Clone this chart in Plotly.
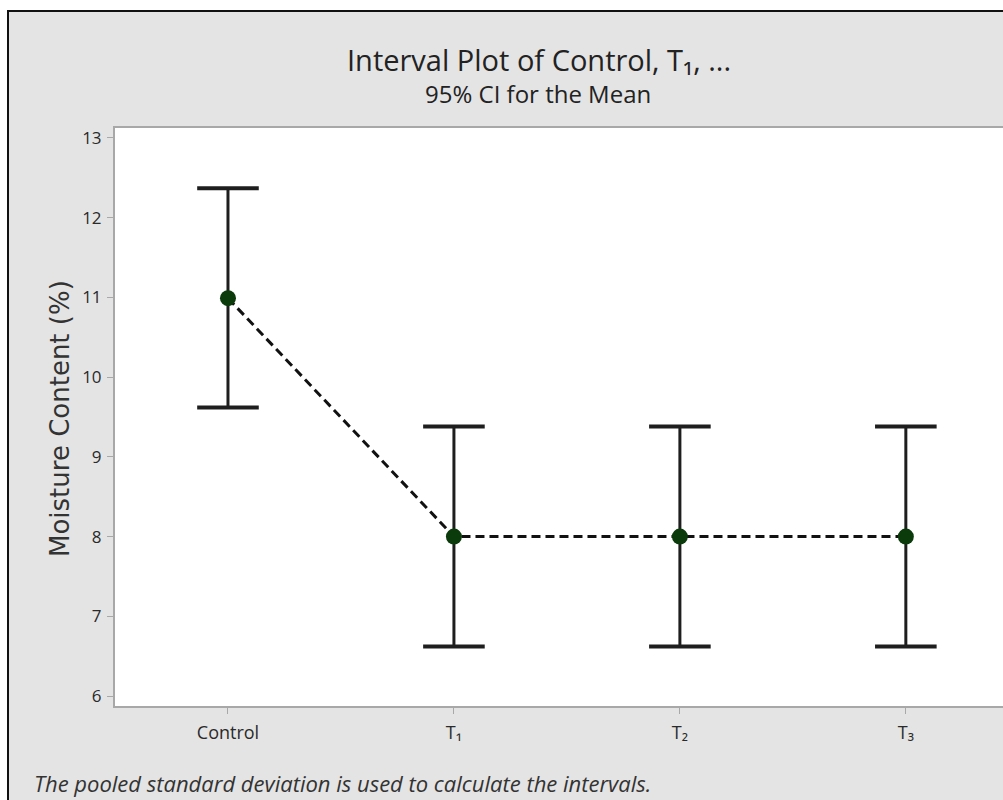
import plotly.graph_objects as go

categories = ["Control", "T\u2081", "T\u2082", "T\u2083"]
means = [10.99, 8.0, 8.0, 8.0]
lower = [9.62, 6.62, 6.62, 6.62]
upper = [12.37, 9.38, 9.38, 9.38]
y_ticks = [6, 7, 8, 9, 10, 11, 12, 13]

title_text = "Interval Plot of Control, T\u2081, ..."
subtitle_text = "95% CI for the Mean"
y_title = "Moisture Content (%)"
footnote = "The pooled standard deviation is used to calculate the intervals."

W, H = 1003, 800
L, R, T, B = 115, 1003, 128, 706
pw, ph = R - L, B - T


def px(x):
    return (x - L) / pw


def py(y):
    return (B - y) / ph


err_plus = [u - m for u, m in zip(upper, means)]
err_minus = [m - l for m, l in zip(means, lower)]

fig = go.Figure()
# connecting dashed line
fig.add_trace(go.Scatter(x=categories, y=means, mode="lines",
                         line=dict(color="#111111", width=3, dash="9px,5px"),
                         hoverinfo="skip", showlegend=False))
# interval stems
fig.add_trace(go.Scatter(x=categories, y=means, mode="markers",
                         marker=dict(size=1, color="rgba(0,0,0,0)"),
                         error_y=dict(type="data", symmetric=False, array=err_plus,
                                      arrayminus=err_minus, color="#1e1e1e",
                                      thickness=3, width=0),
                         showlegend=False))
# caps
fig.add_trace(go.Scatter(x=categories + categories, y=upper + lower, mode="markers",
                         marker=dict(symbol="line-ew", size=44,
                                     line=dict(color="#1e1e1e", width=4)),
                         showlegend=False))
# means
fig.add_trace(go.Scatter(x=categories, y=means, mode="markers",
                         marker=dict(symbol="circle", size=16, color="#0b3a0b",
                                     line=dict(width=0)),
                         showlegend=False))

fig.update_layout(
    width=W, height=H,
    margin=dict(l=L, r=W - R, t=T, b=H - B, pad=0),
    paper_bgcolor="#e4e4e4",
    plot_bgcolor="white",
    showlegend=False,
    font=dict(family="Open Sans", color="#333333"),
    xaxis=dict(range=[-0.5, 3.43], showgrid=False, zeroline=False,
               showline=True, linecolor="#a8a8a8", linewidth=2, mirror=True,
               ticks="outside", ticklen=6, tickcolor="#a8a8a8", tickwidth=1,
               tickfont=dict(size=18, color="#2a2a2a", family="Open Sans"),
               ticklabelstandoff=3),
    yaxis=dict(range=[5.875, 13.125], tickvals=y_ticks, showgrid=False,
               zeroline=False, showline=True, linecolor="#a8a8a8", linewidth=2,
               ticks="outside", ticklen=6, tickcolor="#a8a8a8", tickwidth=1,
               tickfont=dict(size=17, color="#2a2a2a", family="Open Sans"),
               ticklabelstandoff=2),
    shapes=[
        # white margin above and left of the frame
        dict(type="rect", xref="paper", yref="paper", x0=px(-5), x1=px(1100),
             y0=py(10), y1=py(-5), fillcolor="white", line=dict(width=0), layer="above"),
        dict(type="rect", xref="paper", yref="paper", x0=px(-5), x1=px(7),
             y0=py(900), y1=py(-5), fillcolor="white", line=dict(width=0), layer="above"),
        # outer frame
        dict(type="rect", xref="paper", yref="paper", x0=px(8), x1=px(1100),
             y0=py(900), y1=py(11), line=dict(color="#111111", width=2),
             fillcolor="rgba(0,0,0,0)", layer="above"),
    ],
    annotations=[
        dict(text=title_text, xref="paper", yref="paper", x=px(539), y=py(60),
             xanchor="center", yanchor="middle", showarrow=False,
             font=dict(size=29, color="#222222", family="Open Sans")),
        dict(text=subtitle_text, xref="paper", yref="paper", x=px(538), y=py(93),
             xanchor="center", yanchor="middle", showarrow=False,
             font=dict(size=24, color="#222222", family="Open Sans")),
        dict(text=y_title, xref="paper", yref="paper", x=px(60), y=py(419),
             xanchor="center", yanchor="middle", textangle=-90, showarrow=False,
             font=dict(size=26, color="#333333", family="DejaVu Sans")),
        dict(text="<i>" + footnote + "</i>", xref="paper", yref="paper", x=px(32),
             y=py(783), xanchor="left", yanchor="middle", showarrow=False,
             font=dict(size=22, color="#333333", family="Open Sans")),
    ],
)

fig.write_html("out.html", config={"displayModeBar": False},
               post_script="document.body.style.margin='0';"
                           "document.body.style.overflow='hidden';")
